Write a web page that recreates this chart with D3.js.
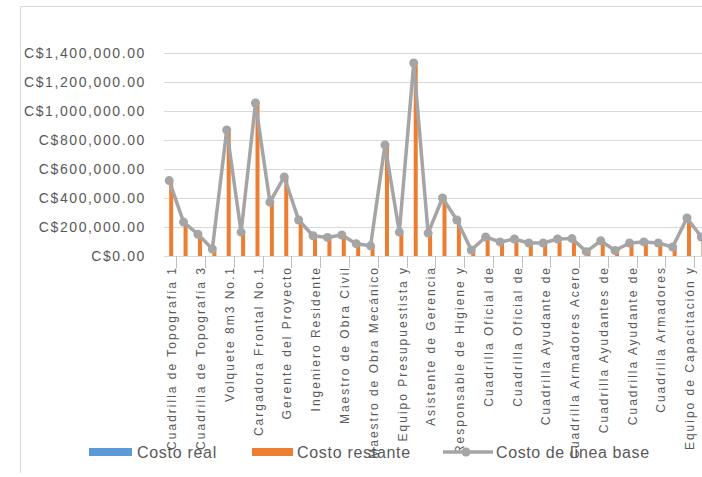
<!DOCTYPE html>
<html>
<head>
<meta charset="utf-8">
<script src="https://cdn.jsdelivr.net/npm/d3@7"></script>
<style>
  html, body { margin: 0; padding: 0; background: #ffffff; }
  svg { display: block; }
  text { font-family: "Liberation Sans", Arial, sans-serif; fill: #595959; }
</style>
</head>
<body>
<svg id="chart" width="702" height="477"></svg>
<script>
// ---- data ----
const categories = [
  "Cuadrilla de Topografía 1", "Cuadrilla de Topografía 2", "Cuadrilla de Topografía 3", "Cuadrilla de Topografía 4",
  "Volquete 8m3 No.1", "Volquete 8m3 No.2", "Cargadora Frontal No.1", "Cargadora Frontal No.2",
  "Gerente del Proyecto", "Administrador del Proyecto", "Ingeniero Residente", "Ingeniero de Campo",
  "Maestro de Obra Civil", "Maestro de Obra Eléctrico", "Maestro de Obra Mecánico", "Equipo de Planificación",
  "Equipo Presupuestista y", "Equipo de Control", "Asistente de Gerencia", "Secretaria de Gerencia",
  "Responsable de Higiene y", "Bodeguero", "Cuadrilla Oficial de", "Cuadrilla Oficial de ",
  "Cuadrilla Oficial de  ", "Cuadrilla Ayudante de", "Cuadrilla Ayudante de ", "Cuadrilla Armadores",
  "Cuadrilla Armadores Acero", "Cuadrilla Ayudantes de", "Cuadrilla Ayudantes de ", "Cuadrilla Ayudante de  ",
  "Cuadrilla Ayudante de   ", "Cuadrilla Armadores ", "Cuadrilla Armadores  ", "Cuadrilla Armadores   ",
  "Equipo de Capacitación y", "Equipo de Capacitación y "
];
// labels shown on the axis (every other category)
const shownLabels = [
  "Cuadrilla de Topografía 1", "Cuadrilla de Topografía 3", "Volquete 8m3 No.1", "Cargadora Frontal No.1",
  "Gerente del Proyecto", "Ingeniero Residente", "Maestro de Obra Civil", "Maestro de Obra Mecánico",
  "Equipo Presupuestista y", "Asistente de Gerencia", "Responsable de Higiene y", "Cuadrilla Oficial de",
  "Cuadrilla Oficial de", "Cuadrilla Ayudante de", "Cuadrilla Armadores Acero", "Cuadrilla Ayudantes de",
  "Cuadrilla Ayudante de", "Cuadrilla Armadores", "Equipo de Capacitación y"
];
const costoLineaBase = [
  520000, 234000, 150000, 48000, 869000, 165000, 1055000, 372000,
  545000, 248000, 140000, 128000, 145000, 85000, 70000, 766000,
  165000, 1331000, 158000, 400000, 248000, 41000, 131000, 97000,
  117000, 90000, 90000, 117000, 120000, 30000, 105000, 38000,
  90000, 97000, 90000, 62000, 262000, 131000
];
const costoRestante = [
  510000, 230000, 145000, 40000, 860000, 160000, 1045000, 365000,
  540000, 240000, 135000, 120000, 140000, 80000, 65000, 760000,
  160000, 1320000, 150000, 395000, 240000, 35000, 125000, 90000,
  110000, 85000, 85000, 110000, 115000, 25000, 100000, 30000,
  85000, 90000, 85000, 55000, 255000, 125000
];
const costoReal = categories.map(() => 0);
const yTicks = [0, 200000, 400000, 600000, 800000, 1000000, 1200000, 1400000];
const seriesNames = ["Costo real", "Costo restante", "Costo de línea base"];
const colors = { real: "#5B9BD5", restante: "#ED7D31", base: "#A5A5A5" };

// ---- layout ----
const svg = d3.select("#chart");
const plot = { left: 162, right: 708.6, top: 53, bottom: 256 };

// chart frame
svg.append("path")
  .attr("d", `M702,6.5 H20.5 V473`)
  .attr("fill", "none").attr("stroke", "#D9D9D9").attr("stroke-width", 1);

const x = d3.scaleBand().domain(d3.range(categories.length)).range([plot.left, plot.right]).paddingInner(0).paddingOuter(0);
const y = d3.scaleLinear().domain([0, 1400000]).range([plot.bottom, plot.top]);
const bw = x.bandwidth();
const cx = i => x(i) + bw / 2;

// gridlines
svg.append("g").selectAll("line").data(yTicks.slice(1)).join("line")
  .attr("x1", 164).attr("x2", 702)
  .attr("y1", d => Math.round(y(d)) + 0.5).attr("y2", d => Math.round(y(d)) + 0.5)
  .attr("stroke", "#D9D9D9").attr("stroke-width", 1);

// y-axis labels
const fmt = d => "C$" + d3.format(",.2f")(d);
svg.append("g").selectAll("text").data(yTicks).join("text")
  .attr("x", 146).attr("y", d => y(d))
  .attr("dy", "0.36em")
  .attr("text-anchor", "end")
  .attr("font-size", 14)
  .attr("letter-spacing", 1.6)
  .text(fmt);

// x axis line + ticks
svg.append("line")
  .attr("x1", 164).attr("x2", 702)
  .attr("y1", plot.bottom + 0.5).attr("y2", plot.bottom + 0.5)
  .attr("stroke", "#D9D9D9");
svg.append("g").selectAll("line").data(d3.range(1, categories.length, 2)).join("line")
  .attr("x1", i => Math.round(x(i)) + 0.5).attr("x2", i => Math.round(x(i)) + 0.5)
  .attr("y1", plot.bottom).attr("y2", plot.bottom + 12)
  .attr("stroke", "#BFBFBF");

// bars (clustered: real left, restante right)
const barW = 4;
svg.append("g").selectAll("rect").data(costoReal).join("rect")
  .attr("x", (d, i) => cx(i) - barW).attr("width", barW)
  .attr("y", d => y(d)).attr("height", d => y(0) - y(d))
  .attr("fill", colors.real);
svg.append("g").selectAll("rect").data(costoRestante).join("rect")
  .attr("x", (d, i) => cx(i)).attr("width", barW)
  .attr("y", d => y(d)).attr("height", d => y(0) - y(d))
  .attr("fill", colors.restante);

// baseline line + markers
const line = d3.line().x((d, i) => cx(i)).y(d => y(d));
svg.append("path").datum(costoLineaBase)
  .attr("d", line).attr("fill", "none")
  .attr("stroke", colors.base).attr("stroke-width", 3.5).attr("stroke-linejoin", "round");
svg.append("g").selectAll("circle").data(costoLineaBase).join("circle")
  .attr("cx", (d, i) => cx(i)).attr("cy", d => y(d)).attr("r", 4.5)
  .attr("fill", colors.base);

// category labels (every other one)
svg.append("g").selectAll("text").data(shownLabels).join("text")
  .attr("transform", (d, k) => `translate(${cx(k * 2) + 3},266) rotate(-90)`)
  .attr("dy", "0.35em")
  .attr("text-anchor", "end")
  .attr("font-size", 12)
  .attr("letter-spacing", 2)
  .text(d => d);

// legend
const lg = svg.append("g");
const ly = 452;
lg.append("rect").attr("x", 89).attr("y", ly - 4).attr("width", 43).attr("height", 8).attr("fill", colors.real);
lg.append("text").attr("x", 137).attr("y", ly).attr("dy", "0.35em").attr("font-size", 16).attr("letter-spacing", 0.7).text(seriesNames[0]);
lg.append("rect").attr("x", 252).attr("y", ly - 4).attr("width", 41).attr("height", 8).attr("fill", colors.restante);
lg.append("text").attr("x", 297).attr("y", ly).attr("dy", "0.35em").attr("font-size", 16).attr("letter-spacing", 0.7).text(seriesNames[1]);
lg.append("line").attr("x1", 443).attr("x2", 493).attr("y1", ly).attr("y2", ly).attr("stroke", colors.base).attr("stroke-width", 3.5);
lg.append("circle").attr("cx", 466).attr("cy", ly).attr("r", 4.5).attr("fill", colors.base);
lg.append("text").attr("x", 496).attr("y", ly).attr("dy", "0.35em").attr("font-size", 16).attr("letter-spacing", 0.6).text(seriesNames[2]);
</script>
</body>
</html>
